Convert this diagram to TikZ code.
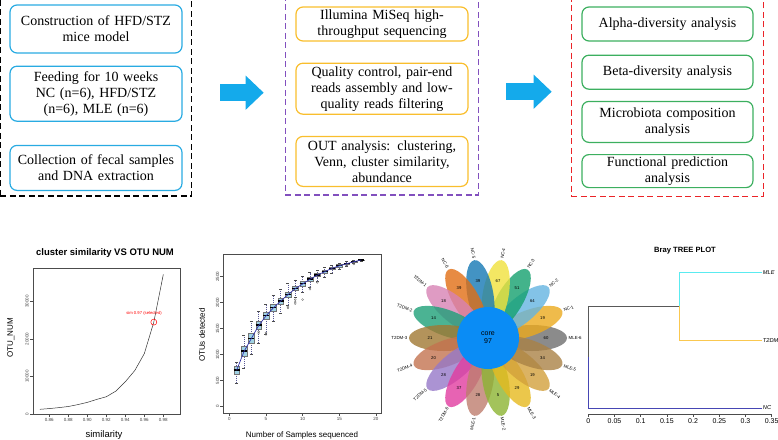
\documentclass[tikz,border=0pt]{standalone}
\usepackage{fontspec}
\setmainfont{Liberation Serif}
\setsansfont{Liberation Sans}
\usetikzlibrary{positioning,fit,calc,arrows.meta}

\definecolor{stepcyan}{RGB}{41,171,226}
\definecolor{steporange}{RGB}{249,190,45}
\definecolor{stepgreen}{RGB}{60,175,95}
\definecolor{dashpurple}{RGB}{130,80,190}
\definecolor{dashred}{RGB}{235,35,40}
\definecolor{flowblue}{RGB}{20,170,235}
\definecolor{coreblue}{RGB}{10,140,245}
\definecolor{boxblue}{RGB}{160,210,228}
\definecolor{meanblue}{RGB}{50,50,170}
% petal colours
\definecolor{pMLE6}{RGB}{110,110,110}
\definecolor{pNC1}{RGB}{235,170,30}
\definecolor{pNC2}{RGB}{100,180,225}
\definecolor{pNC3}{RGB}{20,160,110}
\definecolor{pNC4}{RGB}{240,225,60}
\definecolor{pNC5}{RGB}{20,120,180}
\definecolor{pNC6}{RGB}{225,110,20}
\definecolor{pT1}{RGB}{215,130,180}
\definecolor{pT2}{RGB}{30,160,120}
\definecolor{pT3}{RGB}{160,120,50}
\definecolor{pT4}{RGB}{195,115,80}
\definecolor{pT5}{RGB}{150,120,200}
\definecolor{pT6}{RGB}{225,60,160}
\definecolor{pMLE1}{RGB}{190,125,110}
\definecolor{pMLE2}{RGB}{140,180,50}
\definecolor{pMLE3}{RGB}{230,185,30}
\definecolor{pMLE4}{RGB}{210,160,60}
\definecolor{pMLE5}{RGB}{170,130,70}
% tree colours
\definecolor{treecyan}{RGB}{90,235,240}
\definecolor{treeyellow}{RGB}{250,200,80}
\definecolor{treeblue}{RGB}{70,70,180}

\begin{document}
\begin{tikzpicture}[x=1pt, y=-1pt,
    font=\fontsize{14}{16}\selectfont,
    cyanbox/.style={rectangle, draw=stepcyan, line width=1.2pt, rounded corners=7pt, text width=168pt, inner xsep=2pt, inner ysep=2pt, align=center},
    orangebox/.style={cyanbox, draw=steporange},
    greenbox/.style={cyanbox, draw=stepgreen, text width=167pt},
    dashframe/.style={rectangle, line width=1.4pt, dash pattern=on 6pt off 3.5pt, inner xsep=10pt, inner ysep=8pt},
    flowarrow/.style={draw=flowblue, line width=17pt, -{Triangle[length=18pt, width=33pt]}},
    plottitle/.style={font=\sffamily\bfseries\fontsize{9.5}{11}\selectfont},
    axislabel/.style={font=\sffamily\fontsize{8}{9}\selectfont},
    ticklabel/.style={font=\sffamily\fontsize{4.5}{5}\selectfont, text=black!75, inner sep=1pt},
    plotline/.style={draw=black!70, line width=0.5pt},
    whisker/.style={draw=meanblue!50!gray, line width=0.4pt, dash pattern=on 1pt off 1pt},
    outlier/.style={circle, draw=black!60, line width=0.3pt, inner sep=0pt, minimum size=2pt},
    petalnum/.style={font=\sffamily\fontsize{4.2}{5}\selectfont, inner sep=0pt},
    petallabel/.style={font=\sffamily\fontsize{4.4}{5}\selectfont, inner sep=0.5pt},
    leaflabel/.style={font=\sffamily\itshape\fontsize{5.7}{6}\selectfont, anchor=west, inner sep=1pt},
    branch/.style={line width=0.9pt}
]
\useasboundingbox (0,0) rectangle (778,439);

% Animal experiment
\node[cyanbox, minimum height=48pt] (construct) at (96,29) {Construction of HFD/STZ\\mice model};
\node[cyanbox, minimum height=55pt, below=12pt of construct] (feeding) {Feeding for 10 weeks\\NC (n=6), HFD/STZ\\(n=6), MLE (n=6)};
\node[cyanbox, minimum height=45pt, below=23pt of feeding] (collect) {Collection of fecal samples\\and DNA extraction};
\node[dashframe, draw=black, fit=(construct)(collect), inner xsep=9pt, inner ysep=5pt] (stageA) {};

% Sequencing
\node[orangebox, minimum height=34pt] (illumina) at (382,24) {Illumina MiSeq high-\\throughput sequencing};
\node[orangebox, minimum height=51pt, below=21pt of illumina] (quality) {Quality control, pair-end\\reads assembly and low-\\quality reads filtering};
\node[orangebox, minimum height=50pt, below=21pt of quality] (otu) {OUT analysis: clustering,\\Venn, cluster similarity,\\abundance};
\node[dashframe, draw=dashpurple, fit=(illumina)(otu)] (stageB) {};

% Analysis
\node[greenbox, minimum height=34pt] (alpha) at (667.5,24) {Alpha-diversity analysis};
\node[greenbox, minimum height=34pt, below=13pt of alpha] (beta) {Beta-diversity analysis};
\node[greenbox, minimum height=41pt, below=11pt of beta] (compo) {Microbiota composition\\analysis};
\node[greenbox, minimum height=33pt, below=11pt of compo] (func) {Functional prediction\\analysis};
\node[dashframe, draw=dashred, fit=(alpha)(func)] (stageC) {};

% Arrows
\draw[flowarrow] ([xshift=28pt, yshift=5pt]stageA.east) -- ($(stageA.east -| stageB.west)+(-21,-5)$);
\draw[flowarrow] ([xshift=27pt, yshift=5pt]stageB.east) -- ($(stageB.east -| stageC.west)+(-19,-5)$);

% Cluster similarity plot
\node[plottitle] (simtitle) at (105,253) {cluster similarity VS OTU NUM};
\draw[plotline] (33,268) rectangle (180,414);
\foreach \k/\lab in {0/0.86, 1/0.88, 2/0.90, 3/0.92, 4/0.94, 5/0.96, 6/0.98}
  \draw[plotline] ({49.3+19*\k},414) -- ++(0,3) node[ticklabel, below] (simx\k) {\lab};
\foreach \k/\lab in {0/0, 1/10000, 2/20000, 3/30000}
  \draw[plotline] (33,{414-37.5*\k}) -- ++(-3,0) node[ticklabel, rotate=90, anchor=south] (simy\k) {\lab};
\node[axislabel, rotate=90] (simylab) at (11,338) {OTU\_NUM};
\node[axislabel, font=\sffamily\fontsize{9.5}{10}\selectfont] (simxlab) at (104,435) {similarity};
\begin{scope}[shift={(49.3,414)}, xscale=950, yscale=-3.75]
  \draw[plotline, draw=black!80] plot coordinates {(-0.01,1.25) (0,1.45) (0.01,1.7) (0.02,2.0) (0.03,2.5) (0.04,3.1) (0.05,3.9) (0.06,4.6) (0.07,6.1) (0.08,8.6) (0.09,11.6) (0.10,16.1) (0.11,24.5) (0.12,37.2)};
  \node[circle, draw=red, line width=0.5pt, minimum size=6pt, inner sep=0pt] (selpt) at (0.11,24.5) {};
\end{scope}
\node[font=\sffamily\fontsize{4.2}{5}\selectfont, text=red] (sellab) at (144,313) {sim 0.97 (selected)};

% Rarefaction boxplot
\draw[plotline] (223.3,254.3) rectangle (381.7,413.3);
\foreach \n in {0,5,10,15,20}
  \draw[plotline] ({229.3+7.33*\n},413.3) -- ++(0,3) node[ticklabel, below] (rarx\n) {\n};
\foreach \v in {0,500,1000,1500,2000,2500}
  \draw[plotline] (223.3,{406.7-0.052*\v}) -- ++(-3,0) node[ticklabel, rotate=90, anchor=south] (rary\v) {\v};
\node[axislabel, rotate=90] (rarylab) at (202,335) {OTUs detected};
\node[axislabel] (rarxlab) at (302,435) {Number of Samples sequenced};
\begin{scope}[shift={(229.3,406.7)}, xscale=7.33, yscale=-0.052]
  \foreach \n/\m/\q/\lo/\hi in {1/706/80/450/860, 2/1071/100/750/1370, 3/1315/90/1020/1640,
      4/1571/70/1220/1840, 5/1750/65/1400/1980, 6/1904/60/1640/2150, 7/2033/55/1790/2270,
      8/2160/50/1950/2370, 9/2277/45/2100/2440, 10/2365/40/2200/2520, 11/2456/35/2300/2580,
      12/2533/30/2420/2630, 13/2596/28/2500/2680, 14/2661/25/2570/2720, 15/2712/20/2650/2760,
      16/2750/15/2700/2790, 17/2788/12/2760/2810, 18/2821/6/2805/2832} {
    \draw[whisker] (\n,\lo) -- (\n,\m-\q);
    \draw[whisker] (\n,\m+\q) -- (\n,\hi);
    \draw[plotline, line width=0.3pt] (\n-0.2,\lo) -- (\n+0.2,\lo);
    \draw[plotline, line width=0.3pt] (\n-0.2,\hi) -- (\n+0.2,\hi);
    \filldraw[fill=boxblue, draw=black!55, line width=0.3pt] (\n-0.4,\m-\q) rectangle (\n+0.4,\m+\q);
    \draw[line width=1.1pt] (\n-0.4,\m) -- (\n+0.4,\m);
  }
  \foreach \n/\v [count=\i] in {4/1440, 4/1415, 5/1390, 5/1420, 8/1900, 8/1930, 9/1980, 9/2010, 9/2060,
      10/2060, 11/2260, 11/2290, 12/2390, 16/2720, 17/2745}
    \node[outlier] (out\i) at (\n,\v) {};
  \draw[meanblue, line width=0.7pt] (1,700) -- (2,1060) -- (3,1310) -- (4,1560) -- (5,1745) -- (6,1900)
      -- (7,2030) -- (8,2155) -- (9,2270) -- (10,2360) -- (11,2450) -- (12,2530) -- (13,2595)
      -- (14,2660) -- (15,2710) -- (16,2750) -- (17,2788) -- (18,2822);
\end{scope}

% Venn flower
\begin{scope}[shift={(488,338)}, y=1pt]
  \foreach \ang/\col in {0/pMLE6, 20/pNC1, 40/pNC2, 60/pNC3, 80/pNC4, 100/pNC5, 120/pNC6,
      140/pT1, 160/pT2, 180/pT3, 200/pT4, 220/pT5, 240/pT6, 260/pMLE1, 280/pMLE2,
      300/pMLE3, 320/pMLE4, 340/pMLE5}
    \fill[\col, opacity=0.8, rotate=\ang] (44,0) ellipse [x radius=35, y radius=13];
  \fill[coreblue] (0,0) circle [radius=31];
  \node[font=\sffamily\fontsize{7}{8}\selectfont, align=center] (core) at (0,0) {core\\97};
  \foreach \ang/\num/\lab/\rot/\anc in {0/60/MLE-6/0/west, 20/19/NC-1/20/west, 40/64/NC-2/40/west,
      60/51/NC-3/60/west, 80/67/NC-4/80/west, 100/39/NC-5/-80/east, 120/39/NC-6/-60/east,
      140/18/T2DM-1/-40/east, 160/14/T2DM-2/-20/east, 180/21/T2DM-3/0/east, 200/20/T2DM-4/20/east,
      220/28/T2DM-5/40/east, 240/37/T2DM-6/60/east, 260/28/MLE-1/80/east, 280/5/MLE-2/-80/west,
      300/29/MLE-3/-60/west, 320/19/MLE-4/-40/west, 340/34/MLE-5/-20/west} {
    \node[petalnum] (num\ang) at (\ang:58) {\num};
    \node[petallabel, anchor=\anc, rotate=\rot] (lab\ang) at (\ang:80) {\lab};
  }
\end{scope}

% Bray tree
\node[plottitle, font=\sffamily\bfseries\fontsize{7.6}{9}\selectfont] (braytitle) at (685,251) {Bray TREE PLOT};
\node[leaflabel] (mle) at (761.7,272.7) {MLE};
\node[leaflabel] (t2dm) at (761.7,340.7) {T2DM};
\node[leaflabel] (nc) at (761.7,408) {NC};
\coordinate (split) at (679.3,306);
\coordinate (root) at (588.3,357);
\draw[branch, black!65] (split) -| (root);
\draw[branch, treeblue] (root) |- (nc.west);
\draw[branch, treecyan] (split) |- (mle.west);
\draw[branch, treeyellow] (split) |- (t2dm.west);
\draw[plotline] (588.3,414.3) -- (771.7,414.3);
\foreach \k/\lab in {0/0, 1/0.05, 2/0.1, 3/0.15, 4/0.2, 5/0.25, 6/0.3, 7/0.35}
  \draw[plotline] ({588.3+26.2*\k},414.3) -- ++(0,3) node[ticklabel, below, text=black, font=\sffamily\fontsize{7}{8}\selectfont] (brayx\k) {\lab};

\end{tikzpicture}
\end{document}
